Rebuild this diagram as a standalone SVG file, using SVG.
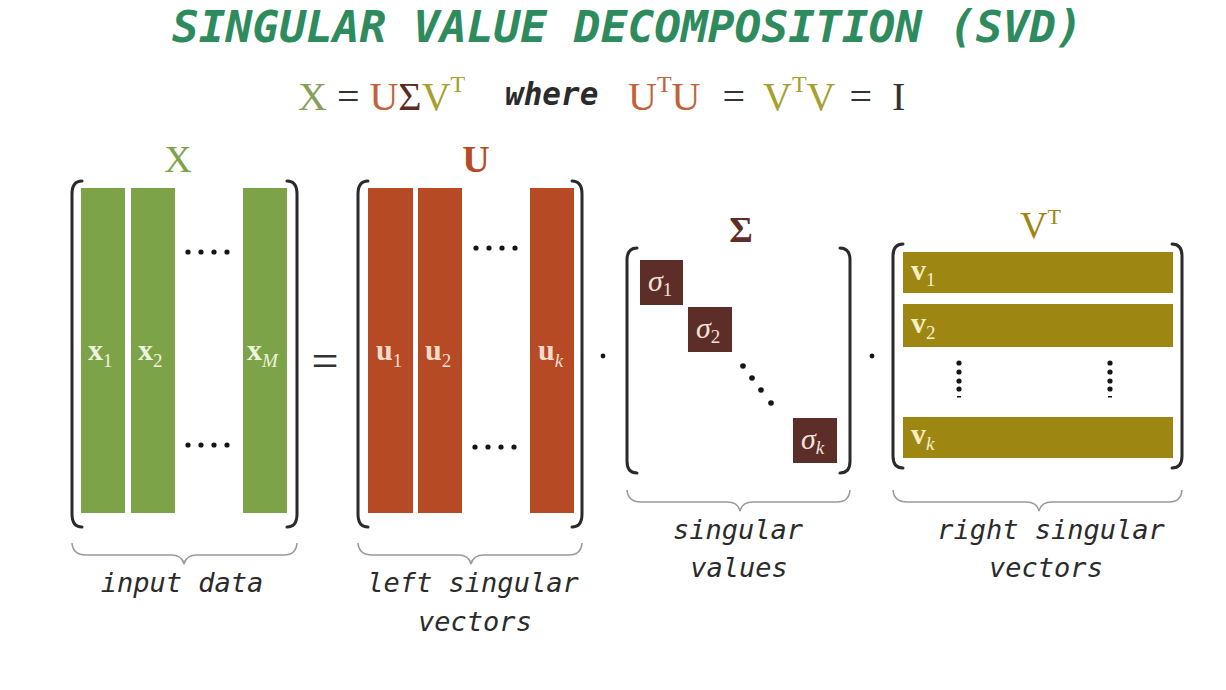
<svg xmlns="http://www.w3.org/2000/svg" width="1226" height="690" viewBox="0 0 1226 690">
<style>
.hand{font-family:"DejaVu Sans Mono","Liberation Mono",monospace;font-style:oblique;fill:#2b2b2b}
.title{font-family:"DejaVu Sans Mono","Liberation Mono",monospace;font-style:oblique;font-weight:bold;fill:#2e8b5e}
.ser{font-family:"Liberation Serif","DejaVu Serif",serif}
.vec{font-family:"Liberation Serif","DejaVu Serif",serif;font-weight:bold;font-size:30px}
.sub{font-weight:normal;font-size:19px}
.it{font-style:italic}
.brk{fill:none;stroke:#2a2a2a;stroke-width:3;stroke-linecap:round}
.brace{fill:none;stroke:#9a9a9a;stroke-width:1.6}
.xg{fill:#7da349}
.ur{fill:#b54a25}
.sb{fill:#5c2e27}
.vy{fill:#9e8613}
.dot{fill:#151515}
.cx{fill:#86a05a}.cu{fill:#c0633c}.cs{fill:#5b2d22}.cv{fill:#a6a02e}.ck{fill:#333}
</style>
<rect width="1226" height="690" fill="#ffffff"/>
<text class="title" x="172" y="42" font-size="44.5">SINGULAR VALUE DECOMPOSITION (SVD)</text>

<g id="formula">
  <text class="ser" x="298" y="110" font-size="40"><tspan class="cx">X</tspan><tspan class="ck" dx="10">=</tspan><tspan class="cu" dx="10">U</tspan><tspan class="cs">Σ</tspan><tspan class="cv">V</tspan><tspan class="cv" font-size="24" dy="-18">T</tspan></text>
  <text class="hand" x="505" y="105" font-size="31" font-weight="bold" fill="#222">where</text>
  <text class="ser" x="628" y="110" font-size="40"><tspan class="cu">U</tspan><tspan class="cu" font-size="24" dy="-18">T</tspan><tspan class="cu" dy="18">U</tspan><tspan class="ck" dx="22">=</tspan><tspan class="cv" dx="18">V</tspan><tspan class="cv" font-size="24" dy="-18">T</tspan><tspan class="cv" dy="18">V</tspan><tspan class="ck" dx="14">=</tspan><tspan class="ck" dx="20">I</tspan></text>
</g>

<g id="matrix-X">
  <text class="ser" x="178" y="172" font-size="38" text-anchor="middle" fill="#7da349">X</text>
  <path class="brk" d="M82 181 Q72 181 72 194 L72 514 Q72 527 82 527"/>
  <path class="brk" d="M287 181 Q297 181 297 194 L297 514 Q297 527 287 527"/>
  <rect class="xg" x="81" y="188" width="44" height="325"/>
  <rect class="xg" x="131" y="188" width="44" height="325"/>
  <rect class="xg" x="243" y="188" width="44" height="325"/>
  <text class="vec" x="88" y="360" fill="#eef4dc">x<tspan class="sub" dy="7">1</tspan></text>
  <text class="vec" x="138" y="360" fill="#eef4dc">x<tspan class="sub" dy="7">2</tspan></text>
  <text class="vec" x="247" y="360" fill="#eef4dc">x<tspan class="sub it" dy="7">M</tspan></text>
  <g class="dot"><circle cx="188" cy="252" r="2.6"/><circle cx="201" cy="252" r="2.6"/><circle cx="214" cy="252" r="2.6"/><circle cx="227" cy="252" r="2.6"/>
  <circle cx="188" cy="445" r="2.6"/><circle cx="201" cy="445" r="2.6"/><circle cx="214" cy="445" r="2.6"/><circle cx="227" cy="445" r="2.6"/></g>
  <path class="brace" d="M72 543 Q73 555 86 555 L171 555 Q182 555 184 564 Q186 555 197 555 L284 555 Q296 555 297 543"/>
  <text class="hand" x="182" y="592" font-size="27" text-anchor="middle">input data</text>
</g>

<text class="ser" x="325" y="377" font-size="48" text-anchor="middle" fill="#333">=</text>

<g id="matrix-U">
  <text class="ser" x="476" y="172" font-size="38" text-anchor="middle" fill="#b54a25" font-weight="bold">U</text>
  <path class="brk" d="M368 181 Q358 181 358 194 L358 514 Q358 527 368 527"/>
  <path class="brk" d="M572 181 Q582 181 582 194 L582 514 Q582 527 572 527"/>
  <rect class="ur" x="368" y="188" width="45" height="325"/>
  <rect class="ur" x="418" y="188" width="44" height="325"/>
  <rect class="ur" x="530" y="188" width="44" height="325"/>
  <text class="vec" x="376" y="360" fill="#f7dccb">u<tspan class="sub" dy="7">1</tspan></text>
  <text class="vec" x="425" y="360" fill="#f7dccb">u<tspan class="sub" dy="7">2</tspan></text>
  <text class="vec" x="538" y="360" fill="#f7dccb">u<tspan class="sub it" dy="7">k</tspan></text>
  <g class="dot"><circle cx="476" cy="248" r="2.6"/><circle cx="489" cy="248" r="2.6"/><circle cx="502" cy="248" r="2.6"/><circle cx="515" cy="248" r="2.6"/>
  <circle cx="475" cy="447" r="2.6"/><circle cx="488" cy="447" r="2.6"/><circle cx="501" cy="447" r="2.6"/><circle cx="514" cy="447" r="2.6"/></g>
  <path class="brace" d="M358 543 Q359 555 372 555 L458 555 Q469 555 471 564 Q473 555 484 555 L569 555 Q581 555 582 543"/>
  <text class="hand" x="473" y="592" font-size="27" text-anchor="middle">left singular</text>
  <text class="hand" x="475" y="631" font-size="27" text-anchor="middle">vectors</text>
</g>

<circle class="dot" cx="603" cy="356" r="2.4"/>

<g id="matrix-Sigma">
  <text class="ser" x="741" y="242" font-size="36" text-anchor="middle" fill="#5c2e27" font-weight="bold">Σ</text>
  <path class="brk" d="M637 248 Q627 248 627 260 L627 461 Q627 473 637 473"/>
  <path class="brk" d="M840 248 Q850 248 850 260 L850 461 Q850 473 840 473"/>
  <rect class="sb" x="640" y="260" width="43" height="45"/>
  <rect class="sb" x="688" y="307" width="44" height="45"/>
  <rect class="sb" x="793" y="418" width="44" height="45"/>
  <g class="ser it" font-size="30" fill="#f2e2dc">
    <text x="648" y="291">σ<tspan font-size="19" dy="5" font-style="normal">1</tspan></text>
    <text x="696" y="338">σ<tspan font-size="19" dy="5" font-style="normal">2</tspan></text>
    <text x="801" y="449">σ<tspan font-size="19" dy="5">k</tspan></text>
  </g>
  <g class="dot"><circle cx="743" cy="366" r="2.8"/><circle cx="752" cy="378" r="2.8"/><circle cx="761" cy="390" r="2.8"/><circle cx="771" cy="403" r="2.8"/></g>
  <path class="brace" d="M627 490 Q628 502 641 502 L727 502 Q738 502 740 511 Q742 502 753 502 L837 502 Q849 502 850 490"/>
  <text class="hand" x="738" y="539" font-size="27" text-anchor="middle">singular</text>
  <text class="hand" x="739" y="577" font-size="27" text-anchor="middle">values</text>
</g>

<circle class="dot" cx="872" cy="356" r="2.4"/>

<g id="matrix-VT">
  <text class="ser" x="1020" y="238" font-size="38" fill="#9e8613">V<tspan font-size="22" dy="-14">T</tspan></text>
  <path class="brk" d="M903 244 Q893 244 893 256 L893 456 Q893 468 903 468"/>
  <path class="brk" d="M1172 244 Q1182 244 1182 256 L1182 456 Q1182 468 1172 468"/>
  <rect class="vy" x="903" y="252" width="270" height="41"/>
  <rect class="vy" x="903" y="304" width="270" height="43"/>
  <rect class="vy" x="903" y="417" width="270" height="41"/>
  <text class="vec" x="911" y="280" fill="#f7efc4">v<tspan class="sub" dy="6">1</tspan></text>
  <text class="vec" x="911" y="333" fill="#f7efc4">v<tspan class="sub" dy="6">2</tspan></text>
  <text class="vec" x="911" y="444" fill="#f7efc4">v<tspan class="sub it" dy="6">k</tspan></text>
  <g class="dot"><circle cx="959" cy="363" r="2.6"/><circle cx="959" cy="372" r="2.6"/><circle cx="959" cy="381" r="2.6"/><circle cx="959" cy="389" r="2.6"/><rect x="957" y="396" width="4" height="1.5"/>
  <circle cx="1110" cy="363" r="2.6"/><circle cx="1110" cy="372" r="2.6"/><circle cx="1110" cy="381" r="2.6"/><circle cx="1110" cy="389" r="2.6"/><rect x="1108" y="396" width="4" height="1.5"/></g>
  <path class="brace" d="M893 490 Q894 502 907 502 L1026 502 Q1037 502 1039 511 Q1041 502 1052 502 L1169 502 Q1181 502 1182 490"/>
  <text class="hand" x="1051" y="539" font-size="27" text-anchor="middle">right singular</text>
  <text class="hand" x="1046" y="577" font-size="27" text-anchor="middle">vectors</text>
</g>
</svg>
